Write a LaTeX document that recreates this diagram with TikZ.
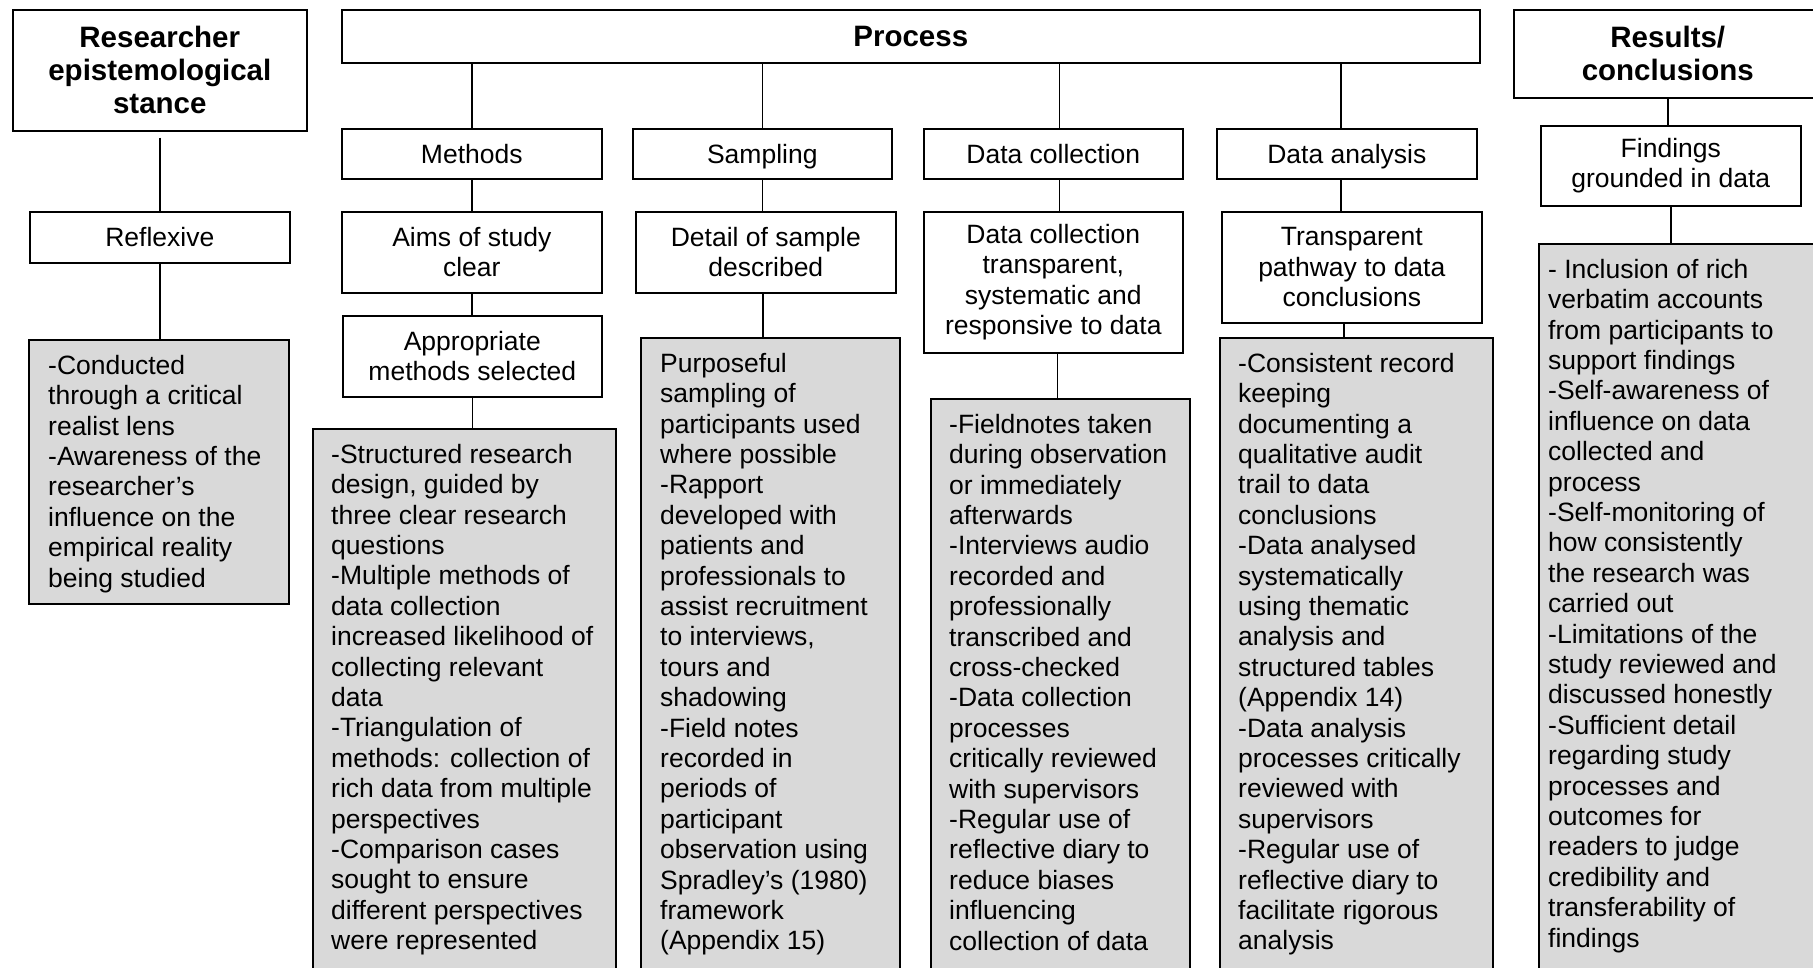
\documentclass[tikz,border=0pt]{standalone}
\usepackage{fontspec}
\setmainfont{Liberation Sans}
\newcommand\bodyfs{\fontsize{26.5}{30.4}\selectfont}
\newcommand\headfs{\fontsize{29.5}{33}\selectfont\bfseries}
\newcommand\firststrut{\rule{0pt}{21pt}}
\definecolor{boxgray}{HTML}{D9D9D9}
\tikzset{
  wbox/.style={draw, fill=white, line width=1.6pt, inner sep=0pt, align=center,
    anchor=north west, font=\bodyfs},
  oneline/.style={text height=19pt, text depth=0pt},
  tbox/.style={wbox, font=\headfs},
  gbox/.style={draw, fill=boxgray, line width=1.6pt, inner sep=0pt, anchor=north west},
  gtext/.style={inner sep=0pt, align=left, anchor=north west, font=\bodyfs},
  link/.style={line width=1.4pt},
}
\begin{document}
\begin{tikzpicture}[x=1pt, y=-1pt]
\clip (0,0) rectangle (1813,967);
\fill[white] (0,0) rectangle (1813,967);

% ---- top level headings
\node[tbox, minimum width=294pt, minimum height=121pt] (res) at (12,9)
  {Researcher\\epistemological\\stance};
\node[tbox, oneline, text height=21pt, minimum width=1138pt, minimum height=53pt] (proc) at (341,9) {Process};
\node[tbox, minimum width=308pt, minimum height=88pt] (resu) at (1513,9)
  {Results/\\conclusions};

% ---- second level
\node[wbox, oneline, minimum width=260pt, minimum height=51pt] (refl) at (29,211) {Reflexive};
\node[wbox, oneline, minimum width=260pt, minimum height=50pt] (meth) at (341,128) {Methods};
\node[wbox, oneline, minimum width=259pt, minimum height=50pt] (samp) at (632,128) {Sampling};
\node[wbox, oneline, minimum width=259pt, minimum height=50pt] (dc) at (923,128) {Data collection};
\node[wbox, oneline, minimum width=260pt, minimum height=50pt] (da) at (1216,128) {Data analysis};
\node[wbox, minimum width=260pt, minimum height=80pt] (fin) at (1540,125)
  {Findings\\grounded in data};

% ---- criteria
\node[wbox, minimum width=260pt, minimum height=81pt] (aims) at (341,211)
  {Aims of study\\clear};
\node[wbox, minimum width=259pt, minimum height=81pt] (app) at (342,315)
  {Appropriate\\methods selected};
\node[wbox, minimum width=260pt, minimum height=81pt] (det) at (635,211)
  {Detail of sample\\described};
\node[wbox, minimum width=259pt, minimum height=141pt] (dct) at (923,211)
  {Data collection\\transparent,\\systematic and\\responsive to data};
\node[wbox, minimum width=260pt, minimum height=111pt] (tp) at (1221,211)
  {Transparent\\pathway to data\\conclusions};

% ---- evidence boxes
\node[gbox, minimum width=260pt, minimum height=264pt] (rg) at (28,339) {};
\node[gbox, minimum width=303pt, minimum height=600pt] (mg) at (312,428) {};
\node[gbox, minimum width=259pt, minimum height=700pt] (sg) at (640,337) {};
\node[gbox, minimum width=259pt, minimum height=600pt] (cg) at (930,398) {};
\node[gbox, minimum width=273pt, minimum height=700pt] (ag) at (1219,337) {};
\node[gbox, minimum width=300pt, minimum height=800pt] (fg) at (1538,243) {};

\node[gtext] (rgt) at ([xshift=20pt, yshift=-14pt]rg.north west)
  {\firststrut-Conducted\\through a critical\\realist lens\\-Awareness of the\\researcher’s\\influence on the\\empirical reality\\being studied};
\node[gtext] (mgt) at ([xshift=19pt, yshift=-14pt]mg.north west)
  {\firststrut-Structured research\\design, guided by\\three clear research\\questions\\-Multiple methods of\\data collection\\increased likelihood of\\collecting relevant\\data\\-Triangulation of\\methods: collection of\\rich data from multiple\\perspectives\\-Comparison cases\\sought to ensure\\different perspectives\\were represented};
\node[gtext] (sgt) at ([xshift=20pt, yshift=-14pt]sg.north west)
  {\firststrut Purposeful\\sampling of\\participants used\\where possible\\-Rapport\\developed with\\patients and\\professionals to\\assist recruitment\\to interviews,\\tours and\\shadowing\\-Field notes\\recorded in\\periods of\\participant\\observation using\\Spradley’s (1980)\\framework\\(Appendix 15)};
\node[gtext] (cgt) at ([xshift=19pt, yshift=-14pt]cg.north west)
  {\firststrut-Fieldnotes taken\\during observation\\or immediately\\afterwards\\-Interviews audio\\recorded and\\professionally\\transcribed and\\cross-checked\\-Data collection\\processes\\critically reviewed\\with supervisors\\-Regular use of\\reflective diary to\\reduce biases\\influencing\\collection of data};
\node[gtext] (agt) at ([xshift=19pt, yshift=-14pt]ag.north west)
  {\firststrut-Consistent record\\keeping\\documenting a\\qualitative audit\\trail to data\\conclusions\\-Data analysed\\systematically\\using thematic\\analysis and\\structured tables\\(Appendix 14)\\-Data analysis\\processes critically\\reviewed with\\supervisors\\-Regular use of\\reflective diary to\\facilitate rigorous\\analysis};
\node[gtext] (fgt) at ([xshift=10pt, yshift=-14pt]fg.north west)
  {\firststrut- Inclusion of rich\\verbatim accounts\\from participants to\\support findings\\-Self-awareness of\\influence on data\\collected and\\process\\-Self-monitoring of\\how consistently\\the research was\\carried out\\-Limitations of the\\study reviewed and\\discussed honestly\\-Sufficient detail\\regarding study\\processes and\\outcomes for\\readers to judge\\credibility and\\transferability of\\findings};

% ---- connectors
\draw[link] ([yshift=-6pt]res.south) -- (refl.north);
\draw[link] (refl.south) -- (refl.south |- rg.north);

\draw[link] (meth.north |- proc.south) -- (meth.north);
\draw[link] (meth.south) -- (aims.north);
\draw[link] (aims.south) -- (aims.south |- app.north);
\draw[link] (app.south) -- (app.south |- mg.north);

\draw[link] (samp.north |- proc.south) -- (samp.north);
\draw[link] (samp.south) -- (samp.south |- det.north);
\draw[link] ([xshift=-3pt]det.south) -- ([xshift=-3pt]det.south |- sg.north);

\draw[link] ([xshift=6pt]dc.north |- proc.south) -- ([xshift=6pt]dc.north);
\draw[link] ([xshift=6pt]dc.south) -- ([xshift=6pt]dc.south |- dct.north);
\draw[link] ([xshift=4pt]dct.south) -- ([xshift=4pt]dct.south |- cg.north);

\draw[link] ([xshift=-6pt]da.north |- proc.south) -- ([xshift=-6pt]da.north);
\draw[link] ([xshift=-6pt]da.south) -- ([xshift=-6pt]da.south |- tp.north);
\draw[link] ([xshift=-8pt]tp.south) -- ([xshift=-8pt]tp.south |- ag.north);

\draw[link] (resu.south) -- (resu.south |- fin.north);
\draw[link] (fin.south) -- (fin.south |- fg.north);
\end{tikzpicture}
\end{document}
